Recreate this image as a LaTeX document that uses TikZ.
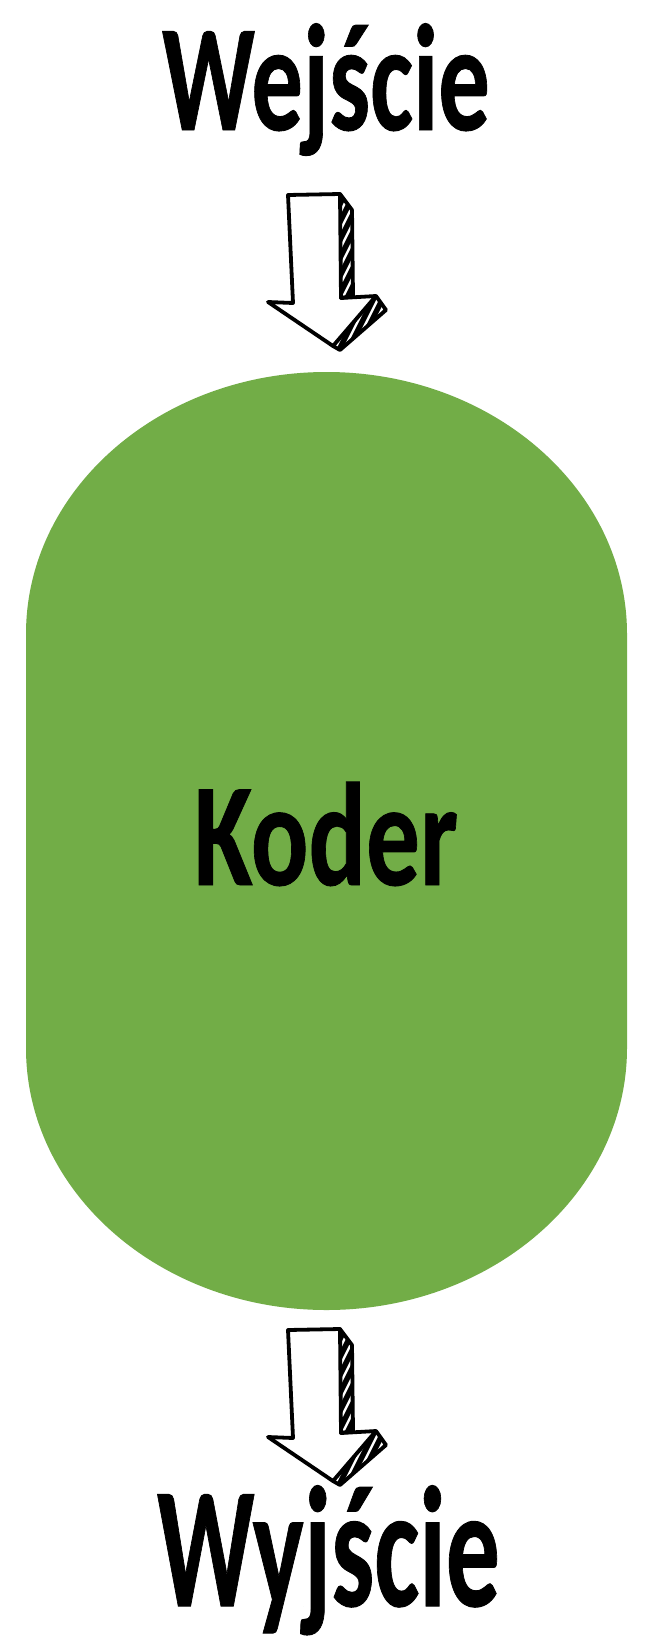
\documentclass[tikz,border=0pt]{standalone}
\usepackage{fontspec}
\usepackage{graphicx}
\setmainfont{Carlito}[BoldFeatures={FakeBold=0.6}]
\definecolor{koder}{HTML}{72AD47}
\newcommand{\fitw}[2]{\resizebox{#1}{\height}{#2}}
\tikzset{
  lbl/.style={inner sep=0pt, anchor=base},
  outline/.style={draw=black, line width=3.8pt, line join=round, line cap=round},
  fatarrow/.pic={
    \fill[white] (0,0) -- (52,-1) -- (53,103) -- (88,101) -- (45,151) -- (-20,107) -- (5,108) -- cycle;
    \begin{scope}
      \clip (52,-1) -- (64,15) -- (65,101) -- (53,103) -- cycle
            (88,101) -- (98,115) -- (52,155) -- (45,151) -- cycle;
      \fill[black] (30,-10) rectangle (110,170);
      \foreach \d in {-60,-51,...,120}
        \draw[white, line width=2.4pt] (\d,170) -- (\d+85,0);
    \end{scope}
    \draw[outline] (52,-1) -- (64,15) -- (65,101) -- (53,103);
    \draw[outline] (88,101) -- (98,115) -- (52,155) -- (45,151);
    \draw[outline] (0,0) -- (52,-1) -- (53,103) -- (88,101) -- (45,151) -- (-20,107) -- (5,108) -- cycle;
  }
}
\begin{document}
\begin{tikzpicture}[x=1pt,y=-1pt]
\useasboundingbox (0,0) rectangle (656,1646);
\fill[white] (0,0) rectangle (656,1646);
% green body
\fill[koder] (26,634) .. controls (26,489.3) and (160.5,372) .. (326.5,372)
  .. controls (492.5,372) and (627,489.3) .. (627,634) -- (627,1048)
  .. controls (627,1192.7) and (492.5,1310) .. (326.5,1310)
  .. controls (160.5,1310) and (26,1192.7) .. (26,1048) -- cycle;
\node[lbl] (koder) at (326,885) {\fitw{264pt}{\fontsize{147}{160}\selectfont\bfseries Koder}};
\node[lbl] (in) at (326,130) {\fitw{328pt}{\fontsize{152}{170}\selectfont\bfseries Wejście}};
\node[lbl] (out) at (328.5,1606) {\fitw{343pt}{\fontsize{172}{190}\selectfont\bfseries Wyjście}};
\pic at (288,195) {fatarrow};
\pic at (288,1330) {fatarrow};
\end{tikzpicture}
\end{document}
